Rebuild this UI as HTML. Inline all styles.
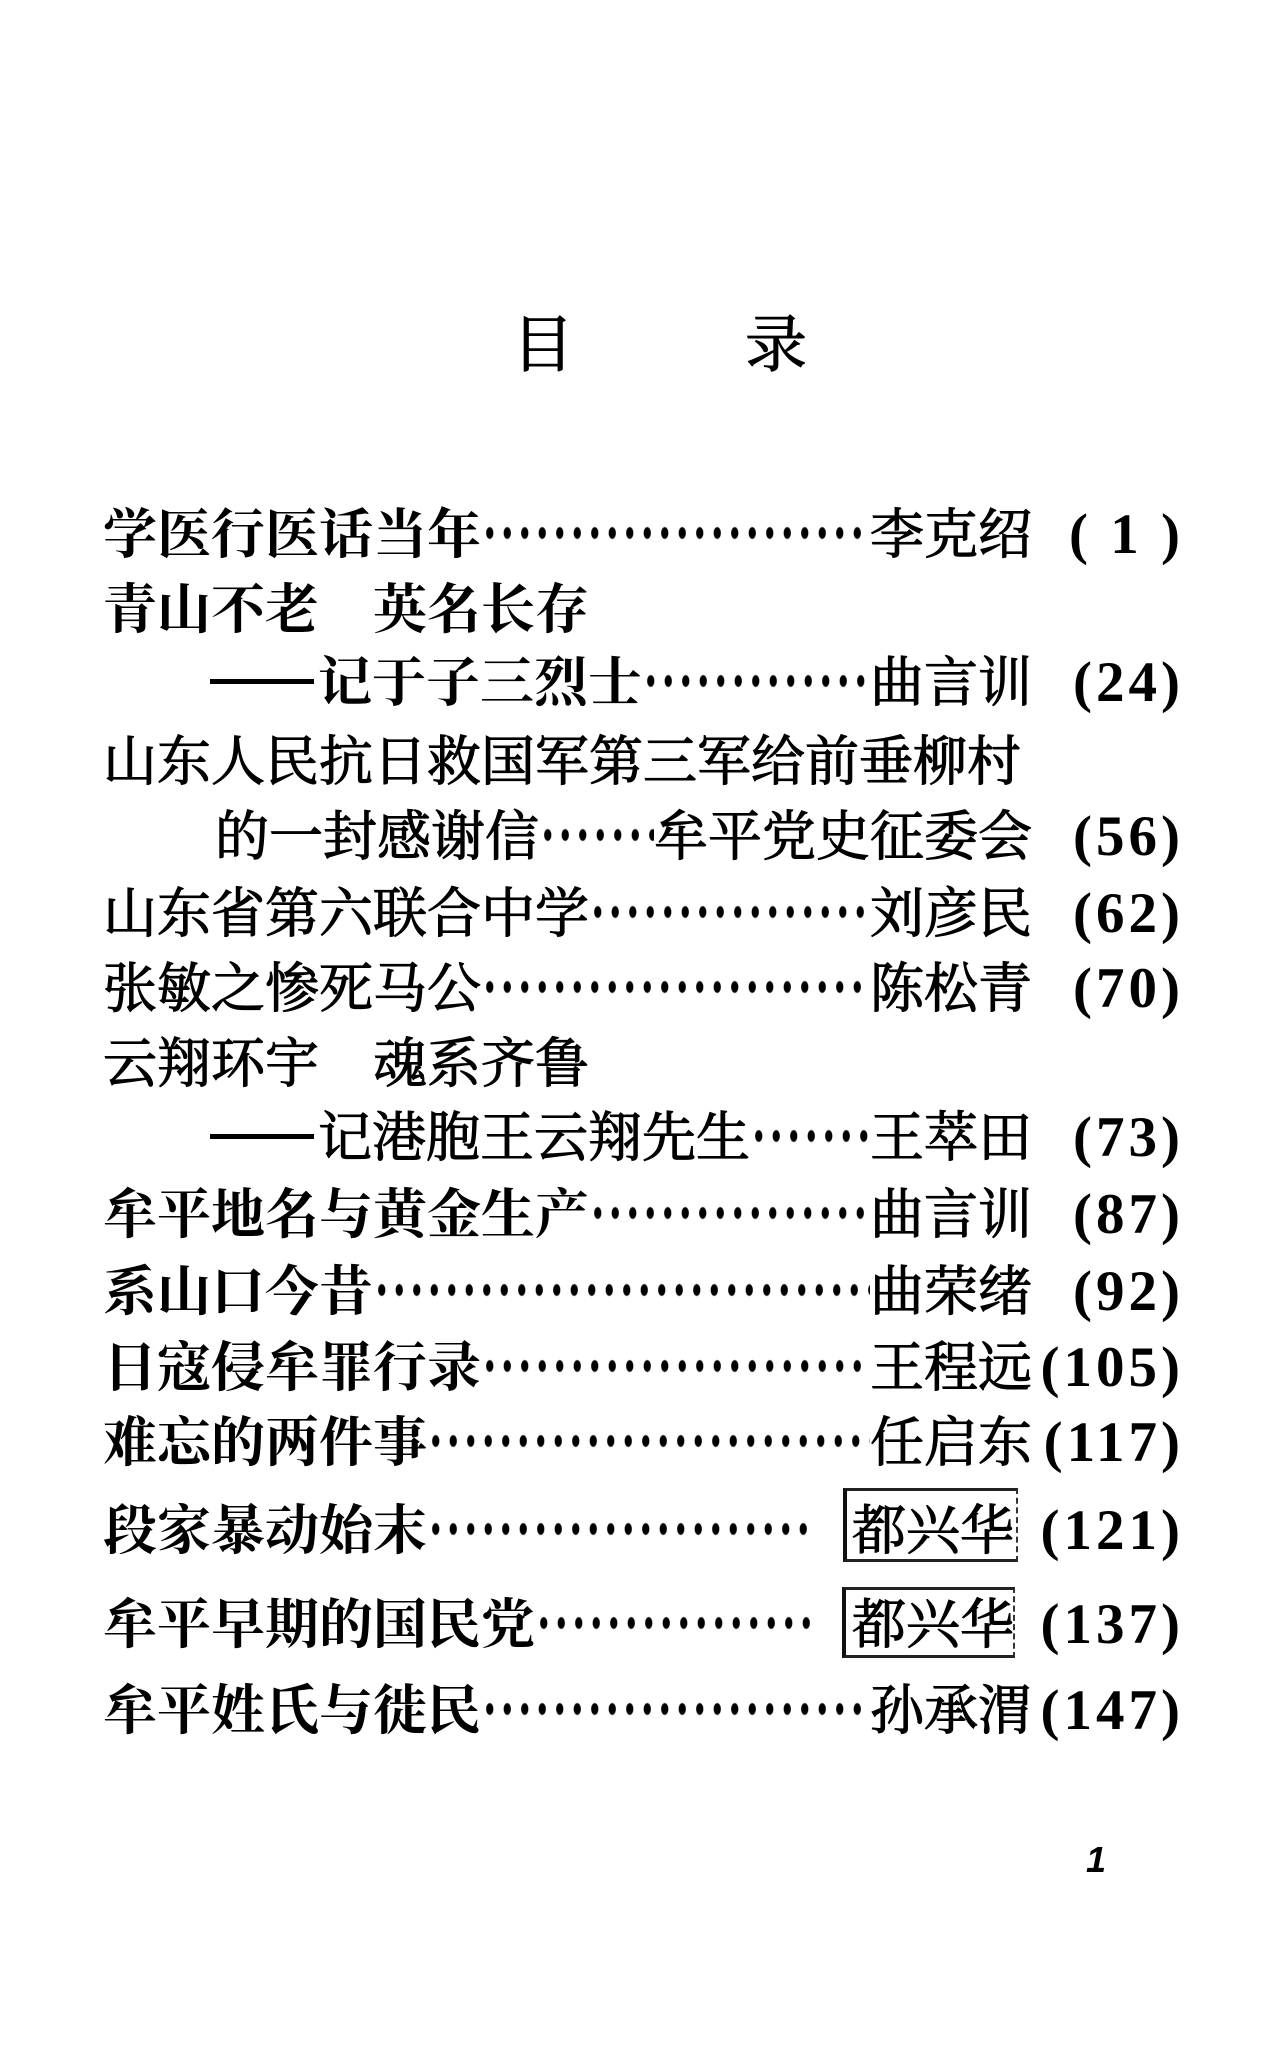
<!DOCTYPE html>
<html><head><meta charset="utf-8">
<style>
html,body{margin:0;padding:0;background:#fff;}
body{width:1278px;height:2050px;position:relative;overflow:hidden;font-family:"Liberation Serif","Noto Serif CJK SC",serif;color:#000;}
.t{position:absolute;font-size:62px;line-height:62px;top:315px;-webkit-text-stroke:1px #000;}
.r{position:absolute;left:103px;width:1081px;display:flex;align-items:baseline;font-size:54px;line-height:54px;white-space:nowrap;}
.b{font-weight:bold;}
.m{-webkit-text-stroke:1.1px #000;}
.d{flex:1;align-self:flex-start;height:54px;background-image:radial-gradient(ellipse 4px 6.5px at 50% 50%,#000 80%,rgba(0,0,0,0) 100%);background-size:17.5px 16px;background-repeat:repeat-x;background-position:0 17px;}
.p{width:152px;flex:none;text-align:right;font-size:57px;font-weight:bold;letter-spacing:4px;}
.dash{display:inline-block;flex:none;width:104px;height:5px;background:#000;align-self:flex-start;margin-top:23px;margin-left:107px;margin-right:4px;}
.box{position:absolute;border-top:3px solid #222;border-bottom:3px solid #222;border-left:4px solid #111;border-right:2px dashed #333;box-sizing:border-box;}
.pg{position:absolute;left:1086px;top:1842px;font-family:"Liberation Sans",sans-serif;font-style:italic;font-weight:bold;font-size:36px;line-height:36px;}
</style></head><body>

<div class="t" style="left:512px;">目</div>
<div class="t" style="left:745px;">录</div>

<div class="r" style="top:508px;"><span class="b">学医行医话当年</span><span class="d"></span><span class="m">李克绍</span><span class="p">( 1 )</span></div>

<div class="r" style="top:583px;"><span class="b">青山不老　英名长存</span></div>

<div class="r" style="top:656px;"><span class="dash"></span><span class="b">记于子三烈士</span><span class="d"></span><span class="m">曲言训</span><span class="p">(24)</span></div>

<div class="r" style="top:735px;"><span class="m">山东人民抗日救国军第三军给前垂柳村</span></div>

<div class="r" style="top:810px;"><span class="m" style="margin-left:112px;">的一封感谢信</span><span class="d"></span><span class="m">牟平党史征委会</span><span class="p">(56)</span></div>

<div class="r" style="top:887px;"><span class="m">山东省第六联合中学</span><span class="d"></span><span class="m">刘彦民</span><span class="p">(62)</span></div>

<div class="r" style="top:962px;"><span class="m">张敏之惨死马公</span><span class="d"></span><span class="m">陈松青</span><span class="p">(70)</span></div>

<div class="r" style="top:1037px;"><span class="m">云翔环宇　魂系齐鲁</span></div>

<div class="r" style="top:1111px;"><span class="dash"></span><span class="m">记港胞王云翔先生</span><span class="d"></span><span class="m">王萃田</span><span class="p">(73)</span></div>

<div class="r" style="top:1188px;"><span class="b">牟平地名与黄金生产</span><span class="d"></span><span class="m">曲言训</span><span class="p">(87)</span></div>

<div class="r" style="top:1265px;"><span class="b">系山口今昔</span><span class="d"></span><span class="m">曲荣绪</span><span class="p">(92)</span></div>

<div class="r" style="top:1341px;"><span class="b">日寇侵牟罪行录</span><span class="d"></span><span class="m">王程远</span><span class="p">(105)</span></div>

<div class="r" style="top:1416px;"><span class="b">难忘的两件事</span><span class="d"></span><span class="m">任启东</span><span class="p">(117)</span></div>

<div class="box" style="left:843px;top:1488px;width:175px;height:74px;"></div>
<div class="r" style="top:1504px;"><span class="b">段家暴动始末</span><span class="d"></span><span class="m" style="margin-left:36px;margin-right:18px;">都兴华</span><span class="p">(121)</span></div>

<div class="box" style="left:842px;top:1587px;width:173px;height:71px;"></div>
<div class="r" style="top:1598px;"><span class="b">牟平早期的国民党</span><span class="d"></span><span class="m" style="margin-left:36px;margin-right:18px;">都兴华</span><span class="p">(137)</span></div>

<div class="r" style="top:1684px;"><span class="b">牟平姓氏与徙民</span><span class="d"></span><span class="m">孙承渭</span><span class="p">(147)</span></div>

<div class="pg">1</div>

</body></html>
